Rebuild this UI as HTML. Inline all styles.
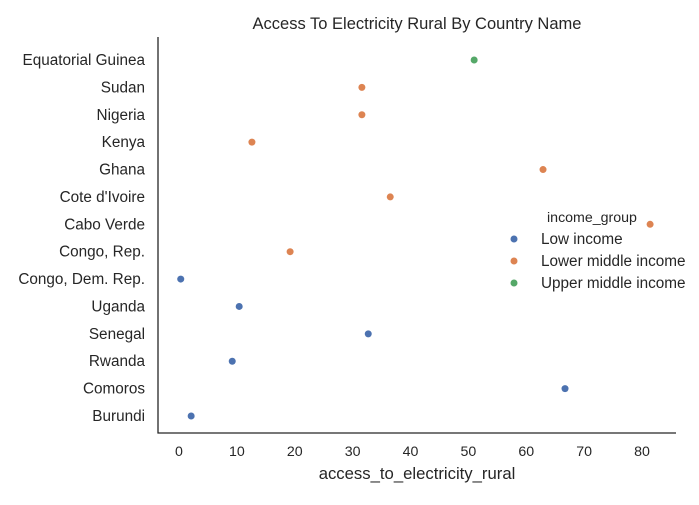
<!DOCTYPE html>
<html><head><meta charset="utf-8"><style>
body{margin:0;background:#fff;font-family:"Liberation Sans","DejaVu Sans",sans-serif;}
svg text{font-family:"Liberation Sans","DejaVu Sans",sans-serif;fill:#262626;}
</style></head><body>
<svg id="chart" width="699" height="500">
<text x="417" y="29" font-size="16.5" text-anchor="middle">Access To Electricity Rural By Country Name</text>
<line x1="158" y1="37" x2="158" y2="433.5" stroke="#262626" stroke-width="1.3"/>
<line x1="157.5" y1="433" x2="676" y2="433" stroke="#262626" stroke-width="1.3"/>
<text x="417" y="479" font-size="16.7" text-anchor="middle">access_to_electricity_rural</text>
<g id="xt"></g><g id="yt"></g><g id="pts"></g>
<g>
<text x="592" y="222" font-size="14.2" text-anchor="middle">income_group</text>
<circle cx="514" cy="239" r="3.5" fill="#4c72b0"/>
<text x="541" y="244" font-size="15.3">Low income</text>
<circle cx="514" cy="261" r="3.5" fill="#dd8452"/>
<text x="541" y="266" font-size="15.3">Lower middle income</text>
<circle cx="514" cy="283" r="3.5" fill="#55a868"/>
<text x="541" y="288" font-size="15.3">Upper middle income</text>
</g>
</svg>
<script>
const countries=["Equatorial Guinea","Sudan","Nigeria","Kenya","Ghana","Cote d'Ivoire","Cabo Verde","Congo, Rep.","Congo, Dem. Rep.","Uganda","Senegal","Rwanda","Comoros","Burundi"];
const values=[51.0,31.6,31.6,12.6,62.9,36.5,81.4,19.2,0.3,10.4,32.7,9.2,66.7,2.1];
const groups=["Upper","Lower","Lower","Lower","Lower","Lower","Lower","Lower","Low","Low","Low","Low","Low","Low"];
const xTicks=[0,10,20,30,40,50,60,70,80];
const colors={Low:"#4c72b0",Lower:"#dd8452",Upper:"#55a868"};
const NS="http://www.w3.org/2000/svg";
const xs=v=>179+v*(642-179)/80;
const ys=i=>60+i*(416-60)/13;
function mk(t,a,p){const e=document.createElementNS(NS,t);for(const k in a)e.setAttribute(k,a[k]);p.appendChild(e);return e;}
const xt=document.getElementById('xt'),yt=document.getElementById('yt'),pts=document.getElementById('pts');
xTicks.forEach(v=>{const t=mk('text',{x:xs(v),y:456,'font-size':14.2,'text-anchor':'middle'},xt);t.textContent=v;

});
countries.forEach((c,i)=>{const t=mk('text',{x:145,y:ys(i)+5,'font-size':15.3,'text-anchor':'end'},yt);t.textContent=c;


const p=mk('circle',{cx:xs(values[i]),cy:ys(i),r:3.5,fill:colors[groups[i]]},pts);

});
</script>
</body></html>
